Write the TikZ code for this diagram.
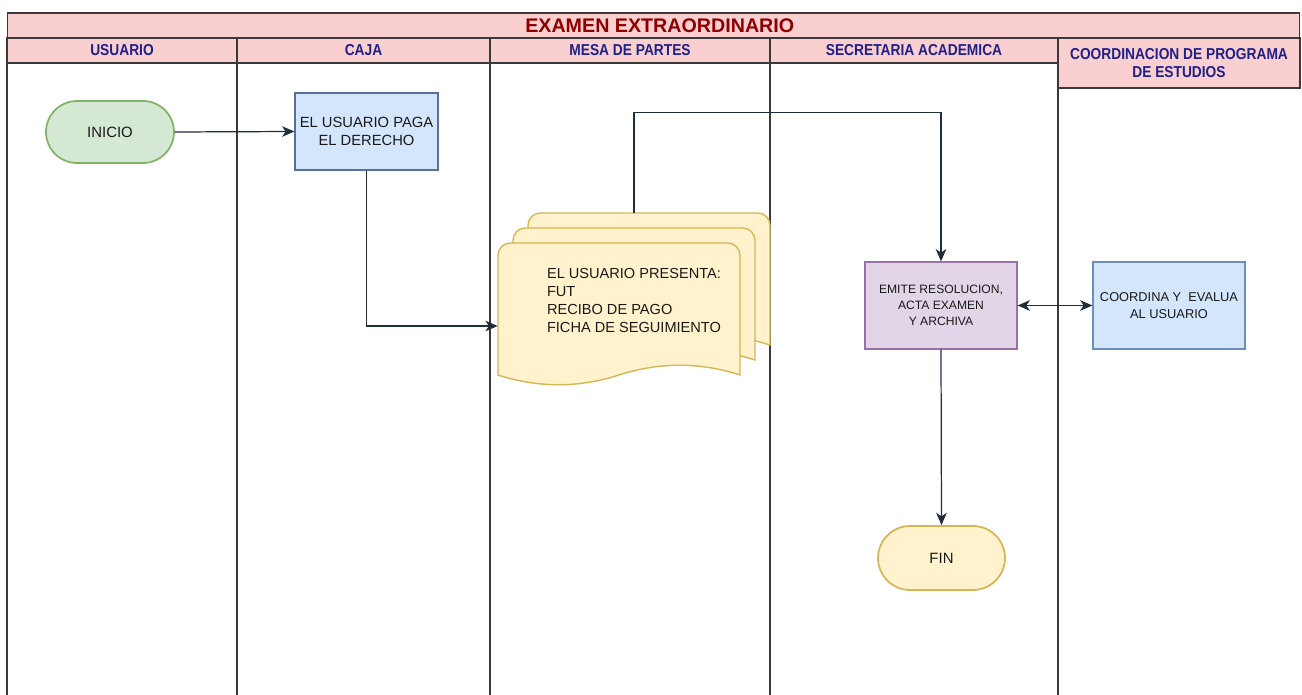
\documentclass[tikz,border=0pt]{standalone}
\usepackage{fontspec}
\setmainfont{Liberation Sans}
\newfontfamily\headfont[FakeStretch=0.87]{Liberation Sans}
\usepackage{xcolor}
\usetikzlibrary{positioning,arrows.meta,calc}

\definecolor{lanepink}{HTML}{F9D0CF}
\definecolor{lanehead}{HTML}{20208A}
\definecolor{titlered}{HTML}{8E0000}
\definecolor{framegray}{HTML}{3A3A3A}
\definecolor{arrowdark}{HTML}{1F2D3D}
\definecolor{greenfill}{HTML}{D5E8D4}
\definecolor{greenline}{HTML}{82B366}
\definecolor{bluefill}{HTML}{D4E6FC}
\definecolor{blueline}{HTML}{6C8EBF}
\definecolor{yellowfill}{HTML}{FFF2CC}
\definecolor{yellowline}{HTML}{D6B656}
\definecolor{purplefill}{HTML}{E1D5E7}
\definecolor{purpleline}{HTML}{9673A6}

\tikzset{
  lanehdr/.style={draw=framegray, fill=lanepink, line width=0.6pt, inner sep=0pt, align=center,
    text=lanehead, font=\headfont\bfseries\fontsize{9}{10.2}\selectfont},
  procbox/.style={draw, line width=0.7pt, align=center, inner sep=1pt, text=black!90},
  flow/.style={draw=arrowdark, line width=0.7pt},
  tip/.style={-{Stealth[length=7pt,width=6pt,inset=2pt]}},
  docsheet/.style={fill=yellowfill, draw=yellowline, line width=0.8pt},
}

\begin{document}
\begin{tikzpicture}[x=0.02cm, y=-0.02cm]
\useasboundingbox (0,0) rectangle (1302,695);

% lanes
\foreach \lx in {7,237,490,770} {
  \draw [framegray, line width=0.6pt] (\lx,38) -- (\lx,695);
}
\draw [framegray, line width=0.6pt] (1058,38) -- (1058,695);

\node [lanehdr, minimum width=25.86cm, minimum height=0.5cm, text=titlered,
       font=\bfseries\fontsize{11.2}{12}\selectfont] (title) at (653.5,25.5) {\hspace*{0.25cm}EXAMEN EXTRAORDINARIO};
\node [lanehdr, minimum width=4.6cm, minimum height=0.5cm] (hUsuario) at (122,50.5) {USUARIO};
\node [lanehdr, minimum width=5.06cm, minimum height=0.5cm] (hCaja) at (363.5,50.5) {CAJA};
\node [lanehdr, minimum width=5.6cm, minimum height=0.5cm] (hMesa) at (630,50.5) {MESA DE PARTES};
\node [lanehdr, minimum width=5.76cm, minimum height=0.5cm] (hSecretaria) at (914,50.5) {SECRETARIA ACADEMICA};
\node [lanehdr, minimum width=4.84cm, minimum height=1.0cm] (hCoord) at (1179,63) {COORDINACION DE PROGRAMA\\DE ESTUDIOS};

% document stack
\foreach \d in {30,15,0} {
  \begin{scope}[shift={(498+\d,243-\d)}]
    \filldraw [docsheet] (0,132) [rounded corners=7pt] -- (0,0) -- (242,0) -- (242,40) [sharp corners]
      -- (242,132) .. controls (202,119) and (161,119) .. (121,132)
      .. controls (81,145) and (40,145) .. (0,132) -- cycle;
  \end{scope}
}
\node [align=left, minimum width=5.44cm, minimum height=3.5cm, text=black!90,
       font=\fontsize{8.3}{10.2}\selectfont] (stack) at (634,300.5)
  {EL USUARIO PRESENTA:\\FUT\\RECIBO DE PAGO\\FICHA DE SEGUIMIENTO};

% process nodes
\node [procbox, fill=greenfill, draw=greenline, line width=1pt, rounded corners=0.62cm,
       minimum width=2.56cm, minimum height=1.24cm, font=\fontsize{8.5}{10}\selectfont] (inicio) at (110,132) {INICIO};
\node [procbox, fill=bluefill, draw=blueline!80!black, minimum width=2.86cm, minimum height=1.54cm,
       font=\fontsize{8.4}{10.2}\selectfont] (paga) at (366.5,131.5) {EL USUARIO PAGA\\EL DERECHO};
\node [procbox, fill=purplefill, draw=purpleline, minimum width=3.04cm, minimum height=1.74cm,
       font=\fontsize{6.9}{9}\selectfont] (emite) at (941,305.5) {EMITE RESOLUCION,\\ACTA EXAMEN\\Y ARCHIVA};
\node [procbox, fill=bluefill, draw=blueline, minimum width=3.04cm, minimum height=1.74cm,
       font=\fontsize{7.3}{9.6}\selectfont] (coord) at (1169,305.5) {COORDINA Y\ \ EVALUA\\AL USUARIO};
\node [procbox, fill=yellowfill, draw=yellowline, line width=1pt, rounded corners=0.64cm,
       minimum width=2.54cm, minimum height=1.28cm, font=\fontsize{8.5}{10}\selectfont] (fin) at (941.5,558) {FIN};

% connectors
\draw [flow, tip] (inicio.east) -- (paga.west);
\draw [flow, tip] (paga.south) |- ([yshift=-0.51cm]stack.west);
\draw [flow, tip] (stack.north) -- ++(0,-100) -| (emite.north);
\draw [flow, {Stealth[length=7pt,width=6pt,inset=2pt]}-{Stealth[length=7pt,width=6pt,inset=2pt]}] (emite.east) -- (coord.west);
\draw [flow, tip] (emite.south) -- (fin.north);
\end{tikzpicture}
\end{document}
